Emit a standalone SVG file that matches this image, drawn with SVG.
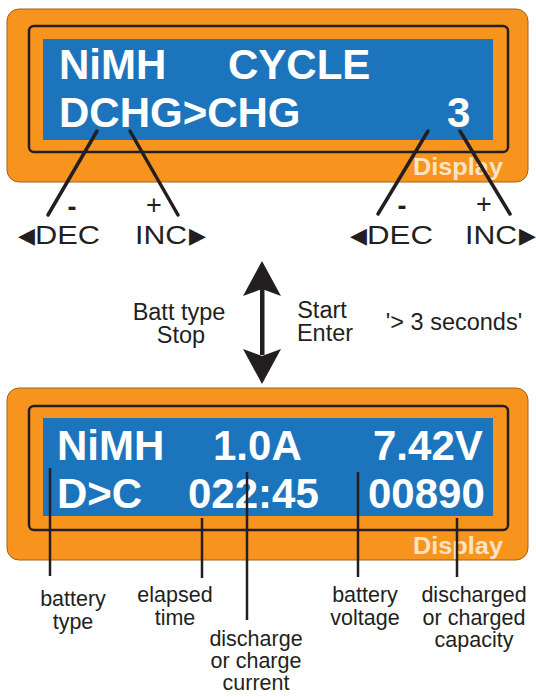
<svg xmlns="http://www.w3.org/2000/svg" width="536" height="697" viewBox="0 0 536 697">
<style>
.outer{fill:#f7941e;stroke:#a3601c;stroke-width:1}
.frame{fill:none;stroke:#231f20;stroke-width:2.5}
.lcd{fill:#1c75bc}
.lcdt{font-family:"Liberation Sans",Arial,sans-serif;font-weight:bold;font-size:42px;fill:#ffffff}
.disp{font-family:"Liberation Sans",Arial,sans-serif;font-weight:bold;font-size:23px;fill:#fde3c6}
.lbl{font-family:"Liberation Sans",Arial,sans-serif;font-size:26px;fill:#231f20}
.pm{font-family:"Liberation Sans",Arial,sans-serif;font-size:27px;fill:#231f20;text-anchor:middle}
.tri{font-family:"DejaVu Sans",sans-serif;font-size:22px;fill:#231f20}
.mid{font-family:"Liberation Sans",Arial,sans-serif;font-size:23.5px;fill:#231f20;text-anchor:middle}
.cap{font-family:"Liberation Sans",Arial,sans-serif;font-size:21.5px;fill:#231f20;text-anchor:middle}
.ln{stroke:#231f20;stroke-width:3.5;stroke-linecap:round;fill:none}
.vl{stroke:#231f20;stroke-width:2.5;fill:none}
</style>
<g id="top-display">
<rect class="outer" x="7" y="9" width="521" height="173" rx="12"/>
<rect class="frame" x="29" y="26" width="479" height="126" rx="5"/>
<rect class="lcd" x="43" y="39" width="450" height="101"/>
<text class="lcdt" x="59" y="79">NiMH</text>
<text class="lcdt" x="228" y="79">CYCLE</text>
<text class="lcdt" x="59" y="127">DCHG&gt;CHG</text>
<text class="lcdt" x="447" y="127">3</text>
<text class="disp" x="413" y="175" textLength="90" lengthAdjust="spacingAndGlyphs">Display</text>
</g>
<g id="bottom-display">
<rect class="outer" x="7" y="388" width="521" height="172" rx="12"/>
<rect class="frame" x="29" y="406" width="479" height="124" rx="5"/>
<rect class="lcd" x="43" y="418" width="450" height="98"/>
<text class="lcdt" x="57" y="460">NiMH</text>
<text class="lcdt" x="213" y="460">1.0A</text>
<text class="lcdt" x="373" y="460">7.42V</text>
<text class="lcdt" x="57" y="508">D&gt;C</text>
<text class="lcdt" x="188" y="508">022:45</text>
<text class="lcdt" x="368" y="508">00890</text>
<text class="disp" x="413" y="554" textLength="90" lengthAdjust="spacingAndGlyphs">Display</text>
</g>
<g id="connectors">
<line class="ln" x1="97" y1="131" x2="48" y2="215"/>
<line class="ln" x1="130" y1="131" x2="178" y2="215"/>
<line class="ln" x1="428" y1="131" x2="378" y2="214"/>
<line class="ln" x1="460" y1="131" x2="510" y2="214"/>
<line class="vl" x1="50" y1="468" x2="50" y2="576"/>
<line class="vl" x1="202" y1="518" x2="202" y2="578"/>
<line class="vl" x1="247" y1="472" x2="247" y2="620"/>
<line class="vl" x1="358" y1="472" x2="358" y2="577"/>
<line class="vl" x1="457" y1="518" x2="457" y2="577"/>
<g id="double-arrow">
<rect x="260" y="285" width="4.5" height="70" fill="#231f20"/>
<polygon points="262,261 281,296 262,289 243,296" fill="#231f20"/>
<polygon points="262,384 281,349 262,356 243,349" fill="#231f20"/>
</g>
</g>
<g id="keys-left">
<text class="pm" x="72" y="216" font-weight="bold">-</text>
<text class="pm" x="154" y="214">+</text>
<text class="lbl" x="18" y="243"><tspan class="tri">◀</tspan><tspan x="35" y="244" textLength="65" lengthAdjust="spacingAndGlyphs">DEC</tspan></text>
<text class="lbl" x="135" y="244"><tspan textLength="52" lengthAdjust="spacingAndGlyphs">INC</tspan><tspan class="tri" x="189" y="243">▶</tspan></text>
</g>
<g id="keys-right">
<text class="pm" x="402" y="215" font-weight="bold">-</text>
<text class="pm" x="484" y="213">+</text>
<text class="lbl" x="350" y="243"><tspan class="tri">◀</tspan><tspan x="367" y="244" textLength="66" lengthAdjust="spacingAndGlyphs">DEC</tspan></text>
<text class="lbl" x="465" y="244"><tspan textLength="52" lengthAdjust="spacingAndGlyphs">INC</tspan><tspan class="tri" x="519" y="243">▶</tspan></text>
</g>
<g id="mode-labels">
<text class="mid" x="179" y="320">Batt type</text>
<text class="mid" x="181" y="343">Stop</text>
<text class="mid" x="322" y="318">Start</text>
<text class="mid" x="325" y="341">Enter</text>
<text class="mid" x="454" y="330">'&gt; 3 seconds'</text>
</g>
<g id="field-labels">
<text class="cap" x="73" y="606">battery</text>
<text class="cap" x="73" y="629">type</text>
<text class="cap" x="175" y="602">elapsed</text>
<text class="cap" x="175" y="625">time</text>
<text class="cap" x="256" y="646">discharge</text>
<text class="cap" x="256" y="668">or charge</text>
<text class="cap" x="256" y="690">current</text>
<text class="cap" x="365" y="602">battery</text>
<text class="cap" x="365" y="625">voltage</text>
<text class="cap" x="474" y="602">discharged</text>
<text class="cap" x="474" y="625">or charged</text>
<text class="cap" x="474" y="647">capacity</text>
</g>
</svg>
